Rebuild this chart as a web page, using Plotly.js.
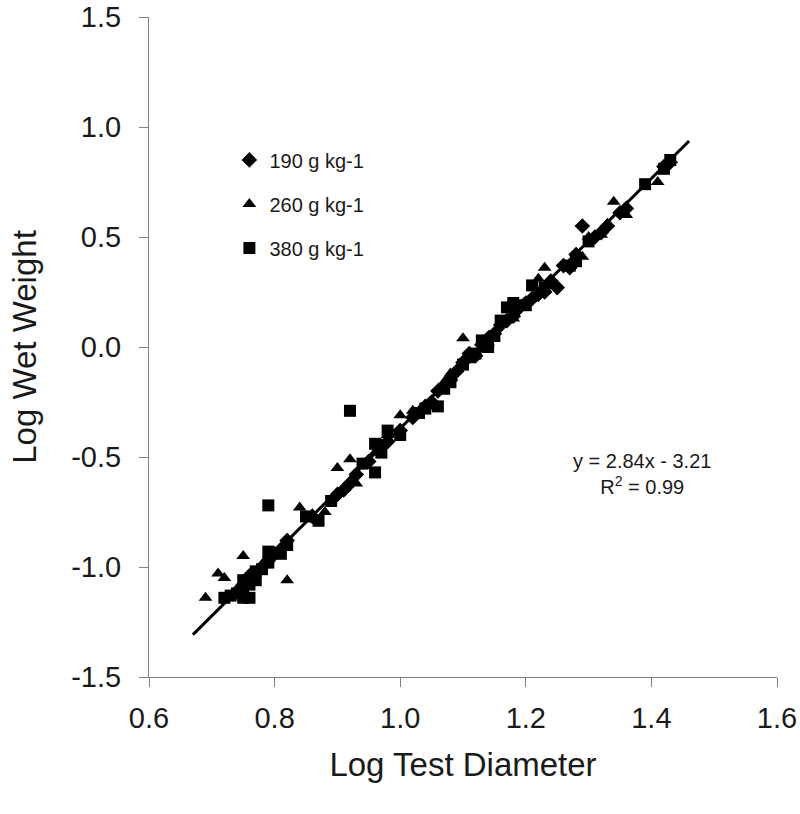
<!DOCTYPE html>
<html>
<head>
<meta charset="utf-8">
<script src="https://cdn.plot.ly/plotly-3.0.1.min.js"></script>
<style>html,body{margin:0;padding:0;background:#fff;}#chart{width:800px;height:814px;}</style>
</head>
<body>
<div id="chart"></div>
<script>
// 190 g kg-1 (diamonds)
const x190 = [0.76,0.78,0.79,0.80,0.81,0.82,0.86,0.90,0.91,0.92,0.93,0.95,0.97,0.98,1.00,1.02,1.04,1.05,1.06,1.08,1.09,1.10,1.11,1.12,1.13,1.14,1.15,1.16,1.17,1.18,1.19,1.20,1.21,1.22,1.23,1.24,1.25,1.26,1.27,1.28,1.29,1.31,1.32,1.33,1.35,1.36,1.42,1.43];
const y190 = [-1.04,-1.00,-0.97,-0.94,-0.92,-0.88,-0.77,-0.67,-0.65,-0.62,-0.58,-0.52,-0.45,-0.43,-0.38,-0.32,-0.27,-0.25,-0.20,-0.15,-0.11,-0.07,-0.03,-0.04,0.01,0.04,0.06,0.10,0.12,0.14,0.18,0.20,0.22,0.24,0.25,0.30,0.27,0.37,0.36,0.42,0.55,0.50,0.52,0.55,0.61,0.63,0.82,0.84];
// 260 g kg-1 (triangles)
const x260 = [0.69,0.71,0.72,0.74,0.75,0.77,0.78,0.80,0.82,0.84,0.86,0.88,0.90,0.92,0.93,0.96,0.98,1.00,1.02,1.05,1.07,1.08,1.10,1.11,1.12,1.14,1.16,1.18,1.19,1.21,1.22,1.23,1.24,1.27,1.29,1.30,1.32,1.33,1.34,1.36,1.41];
const y260 = [-1.14,-1.03,-1.05,-1.10,-0.95,-1.02,-0.99,-0.95,-1.06,-0.73,-0.76,-0.75,-0.55,-0.51,-0.62,-0.48,-0.40,-0.31,-0.29,-0.26,-0.16,-0.12,0.04,-0.06,-0.03,0.02,0.10,0.13,0.19,0.22,0.31,0.36,0.28,0.37,0.41,0.50,0.51,0.56,0.66,0.60,0.75];
// 380 g kg-1 (squares)
const x380 = [0.72,0.73,0.74,0.75,0.76,0.75,0.75,0.76,0.77,0.77,0.78,0.79,0.79,0.79,0.81,0.82,0.85,0.87,0.89,0.92,0.94,0.96,0.96,0.97,0.98,1.00,1.03,1.04,1.06,1.07,1.08,1.10,1.12,1.13,1.14,1.15,1.16,1.17,1.18,1.20,1.21,1.23,1.27,1.28,1.30,1.39,1.42,1.43];
const y380 = [-1.14,-1.13,-1.12,-1.14,-1.14,-1.10,-1.06,-1.08,-1.02,-1.06,-1.01,-0.72,-0.98,-0.93,-0.94,-0.90,-0.77,-0.79,-0.70,-0.29,-0.53,-0.44,-0.57,-0.48,-0.38,-0.40,-0.30,-0.28,-0.27,-0.19,-0.16,-0.08,-0.03,0.03,0.00,0.05,0.12,0.18,0.20,0.19,0.28,0.27,0.37,0.39,0.48,0.74,0.81,0.85];
// regression
const slope = 2.84, intercept = -3.21;
const fitX = [0.67, 1.46];
const fitY = fitX.map(v => slope * v + intercept);

const seriesNames = ['190 g kg-1', '260 g kg-1', '380 g kg-1'];
const xTicks = [0.6, 0.8, 1.0, 1.2, 1.4, 1.6];
const xTickText = ['0.6', '0.8', '1.0', '1.2', '1.4', '1.6'];
const yTicks = [-1.5, -1.0, -0.5, 0.0, 0.5, 1.0, 1.5];
const yTickText = ['-1.5', '-1.0', '-0.5', '0.0', '0.5', '1.0', '1.5'];

const font = 'Liberation Sans, Arial, sans-serif';
const txt = '#1a1a1a';
const traces = [
  {x: x190, y: y190, type: 'scatter', mode: 'markers', name: seriesNames[0], legendgroup: 'a',
   marker: {symbol: 'diamond', size: 12, color: '#000'}},
  {x: x260, y: y260, type: 'scatter', mode: 'markers', name: seriesNames[1], legendgroup: 'b',
   marker: {symbol: 'triangle-up', size: 12, color: '#000'}},
  {x: x380, y: y380, type: 'scatter', mode: 'markers', name: seriesNames[2], legendgroup: 'c',
   marker: {symbol: 'square', size: 12, color: '#000'}},
  {x: fitX, y: fitY, type: 'scatter', mode: 'lines', showlegend: false,
   line: {color: '#000', width: 3}}
];

const layout = {
  width: 800, height: 814,
  margin: {l: 149, r: 23, t: 17, b: 137},
  paper_bgcolor: '#fff', plot_bgcolor: '#fff',
  font: {family: font, color: txt},
  showlegend: true,
  legend: {x: 0.128, y: 0.813, xanchor: 'left', yanchor: 'top', font: {size: 20, family: font, color: txt},
           tracegroupgap: 15, traceorder: 'grouped', bgcolor: 'rgba(0,0,0,0)', itemsizing: 'constant', itemwidth: 30},
  xaxis: {range: [0.6, 1.6], tickvals: xTicks, ticktext: xTickText, showgrid: false, zeroline: false,
          showline: true, linecolor: '#808080', linewidth: 1, ticks: 'outside', ticklen: 9, tickcolor: '#808080',
          ticklabelstandoff: 6,
          tickfont: {size: 29, family: font, color: txt},
          title: {text: 'Log Test Diameter', font: {size: 33, family: font, color: txt}, standoff: 20}},
  yaxis: {range: [-1.5, 1.5], tickvals: yTicks, ticktext: yTickText, showgrid: false, zeroline: false,
          showline: true, linecolor: '#808080', linewidth: 1, ticks: 'outside', ticklen: 9, tickcolor: '#808080',
          ticklabelstandoff: 12,
          tickfont: {size: 29, family: font, color: txt},
          title: {text: 'Log Wet Weight', font: {size: 33, family: font, color: txt}, standoff: 24}},
  annotations: [
    {xref: 'x', yref: 'y', x: 1.385, y: -0.575, text: 'y = 2.84x - 3.21<br>R<sup>2</sup> = 0.99', showarrow: false,
     font: {size: 20, family: font, color: txt}, align: 'center'}
  ]
};

Plotly.newPlot('chart', traces, layout, {displayModeBar: false, staticPlot: true});
</script>
</body>
</html>
